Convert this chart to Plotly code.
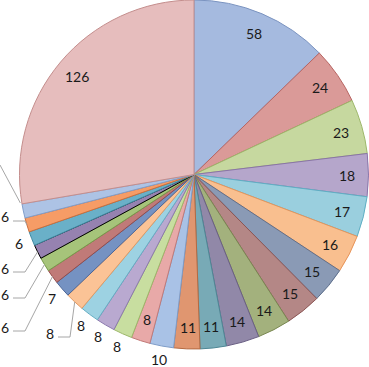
import math
import plotly.graph_objects as go

values = [58, 24, 23, 18, 17, 16, 15, 15, 14, 14, 11, 11, 10,
          8, 8, 8, 8, 8, 7, 6, 6, 6, 6, 6, 6, 126]
labels = [f"S{i+1}" for i in range(len(values))]
colors = ["#A5BADF", "#DA9A98", "#C6D89F", "#B5A6CB", "#9ACFDE", "#F9BF8F",
          "#8A9AB5", "#B48786", "#A3B17D", "#9188A8", "#78AAB6", "#E09670",
          "#A9C2E6", "#E8A9A8", "#C8DEA0", "#B9A9D0", "#9DD2E2", "#FBC396",
          "#7592C2", "#C07A78", "#A6C47A", "#9682B0", "#6AB0C8", "#F69C66",
          "#ADC3E5", "#E6BDBD"]
edge = ["#7A93C0", "#B86663", "#9DB86A", "#8A74A8", "#5FAFC4", "#E8955A",
        "#5E6F8C", "#8C5655", "#7A8852", "#6A5F84", "#4E8795", "#B56A42",
        "#7E9CC8", "#C27A78", "#9DB86A", "#8C7AAE", "#66AFC4", "#E49A62",
        "#4A6699", "#964C4A", "#779A4A", "#000000", "#3F8AA3", "#CF6E3A",
        "#829FCB", "#C48E8D"]
# label placement: "in" inside, "out" just outside, "left" moved to left with leader,
# "none" label lies off-canvas (only its leader is visible)
label_mode = ["in"] * 12 + ["out", "in"] + ["out"] * 3 + ["left", "out",
              "left", "left", "left", "out", "left", "none", "in"]
# pixel positions of moved labels / leader ends (layout only)
moved_pos = {17: (50, 333), 19: (5, 327), 20: (5, 294), 21: (5, 268), 23: (5, 217),
             24: (0, 165)}

W, H = 369, 367
dom_x = [0.0515, 1.0]
dom_y = [0.049, 1.0]

fig = go.Figure(go.Pie(
    labels=labels, values=values, sort=False, direction="clockwise", rotation=0,
    marker=dict(colors=colors, line=dict(color=edge, width=1)),
    textinfo="none",
    domain=dict(x=dom_x, y=dom_y),
    showlegend=False, hoverinfo="label+value",
))

cx = (dom_x[0] + dom_x[1]) / 2 * W
cy = (1 - (dom_y[0] + dom_y[1]) / 2) * H
R = min((dom_x[1] - dom_x[0]) * W, (dom_y[1] - dom_y[0]) * H) / 2
total = sum(values)


def px(x, y):
    return x / W, 1 - y / H


def polar(ang, r):
    a = math.radians(ang)
    return cx + r * math.sin(a), cy - r * math.cos(a)


font = dict(family="Lato", size=14, color="#1a1a1a")
leader = "#A6A6A6"
cum = 0
for i, v in enumerate(values):
    mid = (cum + v / 2) / total * 360
    cum += v
    mode = label_mode[i]
    ex, ey = polar(mid, R)
    if mode == "in":
        lx, ly = polar(mid, 0.875 * R)
    elif mode == "out":
        lx, ly = polar(mid, 1.08 * R)
    elif mode == "left":
        lx, ly = moved_pos[i]
        sx, sy = lx + 8, ly + 4
        bx = min(lx + 20, ex)
        path = "M {} {} L {} {} L {} {}".format(*px(sx, sy), *px(bx, sy), *px(ex, ey))
        fig.add_shape(type="path", path=path, xref="paper", yref="paper",
                      line=dict(color=leader, width=1))
    else:
        sx, sy = moved_pos[i]
        fig.add_shape(type="line", xref="paper", yref="paper",
                      x0=px(sx, sy)[0], y0=px(sx, sy)[1],
                      x1=px(ex - 3, ey - 8)[0], y1=px(ex - 3, ey - 8)[1],
                      line=dict(color=leader, width=1))
        continue
    ax, ay = px(lx, ly)
    fig.add_annotation(x=ax, y=ay, xref="paper", yref="paper", text=str(v),
                       showarrow=False, font=font, xanchor="center", yanchor="middle")

fig.update_layout(width=W, height=H, margin=dict(l=0, r=0, t=0, b=0),
                  paper_bgcolor="white", plot_bgcolor="white")
fig.write_html("out.html", config={"displayModeBar": False},
               post_script="document.body.style.margin='0px';document.body.style.overflow='hidden';")
